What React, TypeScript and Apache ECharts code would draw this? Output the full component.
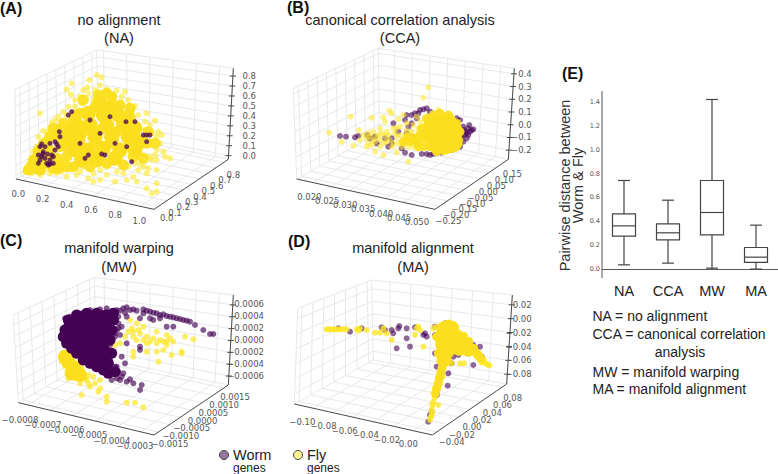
import React, { useEffect, useRef } from "react";
import * as echarts from "echarts";

// ---- tick labels ----
const naX = ["0.0", "0.2", "0.4", "0.6", "0.8", "1.0"];
const naY = ["0.0", "0.1", "0.2", "0.3", "0.4", "0.5", "0.6", "0.7", "0.8"];
const naZ = ["0.0", "0.1", "0.2", "0.3", "0.4", "0.5", "0.6", "0.7", "0.8"];
const ccaX = ["0.020", "0.025", "0.030", "0.035", "0.040", "0.045", "0.050"];
const ccaY = ["−0.25", "−0.20", "−0.15", "−0.10", "−0.05", "0.00", "0.05", "0.10", "0.15"];
const ccaZ = ["−0.2", "−0.1", "0.0", "0.1", "0.2", "0.3", "0.4"];
const mwX = ["−0.0008", "−0.0007", "−0.0006", "−0.0005", "−0.0004", "−0.0003"];
const mwY = ["−0.0015", "−0.0010", "−0.0005", "0.0000", "0.0005", "0.0010", "0.0015"];
const mwZ = ["−0.0006", "−0.0004", "−0.0002", "0.0000", "0.0002", "0.0004", "0.0006"];
const maX = ["−0.10", "−0.08", "−0.06", "−0.04", "−0.02", "0.00"];
const maY = ["−0.04", "−0.02", "0.00", "0.02", "0.04", "0.06", "0.08"];
const maZ = ["−0.08", "−0.06", "−0.04", "−0.02", "0.00", "0.02"];

// ---- projected gene positions ----
const naFlyDots = [[290,225],[305,232],[268,240],[215,250],[200,268],[212,283],[262,262],[240,290],[265,280],[285,270],[350,272],[320,268],[365,290],[385,300],[405,318],[415,345],[440,340],[465,362],[435,365],[120,340],[155,368],[150,385],[175,350],[190,335],[130,392],[115,410],[120,445],[105,470],[95,490],[470,410],[485,405],[490,455],[510,475],[495,470],[470,450],[455,480],[470,510],[440,520],[415,510],[385,500],[350,515],[330,490],[300,540],[280,545],[265,535],[200,530],[215,505],[250,500],[170,520],[150,520],[120,525],[95,520],[300,510],[345,545],[380,540],[410,545],[440,565],[470,550],[455,580],[470,575],[420,490],[450,470],[470,480],[400,530],[360,480],[320,500],[230,525],[140,505],[160,400],[175,380],[200,345],[225,320],[245,335],[280,300],[225,300],[180,420],[150,430],[135,420],[435,390],[455,400],[250,270],[300,255],[335,285],[375,275],[395,335],[450,375],[475,395],[245,310],[205,320],[165,360],[140,400],[110,440],[100,455],[80,505],[90,500],[75,515],[110,515],[130,515],[185,515],[240,515],[280,520],[320,525],[370,520],[430,500],[445,505],[480,430],[465,465],[405,490]];
const naFlyMid = [[240,340],[285,320],[335,290],[360,315],[390,325],[205,385],[175,410],[250,395],[300,390],[350,395],[400,395],[445,395],[240,430],[290,430],[340,430],[390,430],[440,430],[465,430],[200,470],[250,465],[300,465],[350,465],[400,470],[430,475],[220,500],[270,500],[320,490],[105,505],[85,510],[120,510],[250,300],[225,345],[190,370],[165,400],[150,410],[140,425],[320,280],[295,285],[370,495],[180,495],[110,490],[130,490],[100,480],[115,452],[130,432],[150,452],[145,472],[170,475],[175,505],[160,505],[200,440],[180,440],[195,405],[215,395],[220,360],[180,390],[160,385],[200,500],[95,495],[130,465]];
const naFlyCore = [[300,310],[335,320],[265,340],[310,345],[355,345],[385,355],[230,375],[270,375],[320,375],[370,375],[405,385],[205,420],[235,410],[285,410],[335,410],[385,410],[420,425],[225,450],[265,450],[310,445],[360,450],[405,450],[245,480],[290,480],[345,475]];
const naWormDots = [[115,465],[125,470],[135,440],[150,430],[165,425],[130,455],[120,480],[140,490],[150,480],[160,470],[165,450],[180,410],[175,440],[145,495],[135,475],[430,405],[440,405],[450,405],[305,462],[315,465],[265,465],[255,475],[205,345],[215,335],[405,365],[380,440],[378,365],[395,485],[440,425],[270,360],[240,430],[120,440],[178,395],[160,490],[115,490],[300,400],[345,430],[330,350],[128,462],[142,462],[155,465],[150,492],[125,432],[170,432]];

const ccaFlyDots = [[505,262],[490,293],[207,398],[272,350],[297,390],[280,437],[245,425],[335,353],[370,352],[375,365],[388,332],[395,340],[415,358],[445,485],[370,465],[410,457],[345,455],[320,440],[300,420],[325,430],[360,440],[340,395],[360,385],[380,395],[400,385],[420,380],[440,370],[430,345],[535,330],[470,350],[450,420],[470,410],[430,420],[480,435],[410,410],[390,420],[360,420],[330,410],[340,420],[455,395],[475,385],[435,405],[415,430],[395,440],[375,410],[355,405],[460,440],[445,440],[320,415],[310,405],[345,425],[370,430],[385,405],[405,400],[425,440],[440,390],[460,375],[480,365],[325,400],[335,435],[350,410],[365,400],[380,425],[400,430],[420,405],[435,430],[410,385]];
const ccaFlyMid = [[500,400],[490,415],[480,405],[470,425],[460,415],[450,425],[445,410],[430,425],[475,440],[490,440],[500,380],[505,360],[510,440],[485,385],[520,345],[540,340],[565,345],[590,370],[600,395],[595,420],[530,455],[550,452],[500,355]];
const ccaFlyCore = [[525,375],[560,372],[575,395],[525,410],[555,410],[575,425],[535,428],[558,430]];
const ccaWormDots = [[625,385],[635,390],[620,400],[610,380],[600,360],[615,395],[605,410],[620,415],[590,430],[600,440],[575,450],[555,452],[530,460],[510,465],[485,462],[500,462],[455,465],[435,458],[465,340],[440,345],[435,360],[490,328],[510,335],[470,355],[455,370],[445,380],[240,408],[258,410],[285,412],[295,408],[322,405],[330,415],[350,430],[395,415],[400,370],[415,395],[440,400],[460,410],[470,430],[425,445],[395,430],[345,410],[590,355],[625,405],[630,395],[640,388],[612,390],[628,375],[610,425],[612,405],[600,425],[582,445],[545,458],[520,462],[475,340],[480,330],[500,325],[455,345],[375,415],[385,440]];

const mwWormCore = [[225,325],[265,310],[300,305],[230,365],[270,350],[298,345],[268,395],[295,395]];
const mwWormMid = [[195,330],[205,300],[230,285],[260,280],[290,280],[320,285],[340,300],[190,350],[200,370],[215,385],[230,400],[250,420],[270,430],[290,440],[310,450],[325,460],[335,400],[330,360],[335,330],[340,280],[305,425],[325,430],[345,455]];
const mwWormDots = [[350,270],[370,265],[390,270],[410,272],[430,268],[450,275],[470,280],[490,283],[510,290],[530,295],[550,300],[570,305],[585,315],[610,330],[630,342],[640,342],[380,290],[420,295],[450,295],[500,320],[520,320],[460,300],[480,295],[320,265],[300,268],[270,270],[245,280],[380,262],[320,440],[340,460],[360,480],[380,485],[400,490],[425,495],[420,510],[370,460],[375,430],[365,410],[350,440],[330,420],[340,400],[330,375],[345,340],[355,325],[365,320],[420,380],[420,390],[380,370],[335,335],[345,350],[320,370],[190,325],[185,345],[195,295],[210,290],[340,285],[355,290],[345,440],[350,475],[335,480],[360,272],[400,268],[440,272],[460,278],[480,285],[500,288],[520,292],[540,297],[560,302],[430,280],[375,278],[355,310],[350,330],[360,345],[355,455],[365,470],[390,478]];
const mwFlyCore = [[205,425],[225,445],[195,410],[240,465],[215,460]];
const mwFlyDots = [[185,410],[195,400],[200,430],[215,420],[230,430],[225,450],[240,470],[260,480],[250,460],[280,470],[270,500],[295,515],[320,530],[320,545],[245,525],[380,548],[405,548],[430,562],[300,480],[210,460],[195,440],[185,425],[205,475],[400,335],[420,340],[440,350],[460,355],[480,360],[500,365],[520,365],[430,320],[410,310],[390,300],[470,335],[500,345],[545,400],[545,395],[580,358],[555,350],[515,405],[490,390],[470,395],[440,395],[400,410],[400,395],[475,425],[360,370],[375,350],[345,375],[410,360],[440,370],[470,370],[500,375],[265,490],[240,490],[300,505],[245,445],[265,465],[235,460],[255,475],[285,490],[225,475],[415,330],[400,350],[430,360],[450,365],[490,365],[510,355],[385,335],[395,325]];

const maFlyCore = [[555,325],[575,325],[560,350],[590,350],[575,375],[608,370],[548,372],[598,385],[625,388],[560,395],[552,420]];
const maFlyMid = [[565,312],[540,340],[530,350],[610,350],[625,365],[640,385],[650,400],[546,445],[542,460],[538,475],[535,490],[530,505],[526,520],[535,400],[545,400],[590,375],[655,405],[662,415]];
const maFlyDots = [[200,328],[207,328],[214,328],[221,328],[228,328],[235,328],[242,328],[250,328],[260,328],[290,328],[300,325],[320,330],[345,338],[360,338],[395,360],[465,345],[475,320],[490,380],[520,325],[540,470],[538,482],[535,495],[532,507],[527,520],[524,532],[520,545],[517,557],[515,570],[515,585],[510,600],[535,555],[540,465],[548,470],[640,395],[650,410],[660,418],[670,425],[680,432],[688,436],[645,385],[655,405],[665,428],[630,360],[615,345],[575,430],[600,430],[612,430],[470,325],[370,325],[380,340],[535,340],[530,320],[295,332],[480,330],[518,553],[516,577],[512,592],[675,428],[684,435],[672,420]];
const maWormDots = [[600,385],[590,385],[605,390],[622,400],[640,435],[660,380],[655,400],[665,410],[640,375],[575,430],[565,460],[563,497],[530,520],[525,400],[530,440],[515,575],[505,605],[510,585],[450,380],[440,355],[410,385],[400,340],[418,318],[440,325],[465,322],[490,345],[500,350],[525,345],[525,320],[365,322],[375,330],[305,325],[270,335],[235,325],[595,405],[580,410],[555,310],[530,525],[415,325],[395,330],[495,340]];

// ---- panel E box statistics: low, q1, median, q3, high ----
const boxCategories = ["NA", "CCA", "MW", "MA"];
const boxStats = [
  [0.036, 0.276, 0.362, 0.463, 0.742],
  [0.05, 0.245, 0.304, 0.379, 0.577],
  [0.008, 0.287, 0.474, 0.742, 1.42],
  [0, 0.056, 0.1, 0.181, 0.368],
];
const notes = [
  "NA = no alignment",
  "CCA = canonical correlation",
  "analysis",
  "MW = manifold warping",
  "MA = manifold alignment",
];

// ---- layout ----
type P = number[];
const lerp = (a: P, b: P, t: number): P => [a[0] + (b[0] - a[0]) * t, a[1] + (b[1] - a[1]) * t];
const steps = (n: number, f: number, t: number) =>
  Array.from({ length: n }, (_, i) => (n === 1 ? f : f + ((t - f) * i) / (n - 1)));

const panels = [
  {
    grid: [0, 0, 270, 220],
    L: [48, 537], F: [462, 628], R: [685, 478], B: [295, 398], LT: [45, 268], BT: [290, 150], RT: [700, 205],
    xT: naX, yT: naY, zT: naZ,
    xf: [0.05, 0.9], yf: [0.06, 0.94], zf: [0.04, 0.915],
    xl: [[55, 582], [418, 662]], yl: [[500, 654], [700, 525]], zl: [[768, 467], [768, 228]],
  },
  {
    grid: [260, 0, 270, 220],
    L: [110, 537], F: [525, 628], R: [745, 478], B: [358, 398], LT: [100, 265], BT: [355, 145], RT: [763, 205],
    xT: ccaX, yT: ccaY, zT: ccaZ,
    xf: [0.12, 0.9], yf: [0.06, 0.94], zf: [0.1, 0.94],
    xl: [[148, 590], [471, 666]], yl: [[565, 663], [757, 523]], zl: [[815, 450], [815, 222]],
  },
  {
    grid: [0, 220, 270, 254],
    L: [55, 548], F: [462, 645], R: [685, 495], B: [288, 412], LT: [40, 285], BT: [283, 172], RT: [700, 225],
    xT: mwX, yT: mwY, zT: mwZ,
    xf: [0.07, 0.9], yf: [0.06, 0.94], zf: [0.1, 0.89],
    xl: [[60, 600], [405, 677]], yl: [[510, 672], [705, 532]], zl: [[792, 468], [792, 252]],
  },
  {
    grid: [260, 220, 270, 254],
    L: [103, 552], F: [517, 645], R: [740, 492], B: [340, 420], LT: [113, 265], BT: [335, 180], RT: [757, 225],
    xT: maX, yT: maY, zT: maZ,
    xf: [0.13, 0.865], yf: [0.06, 0.94], zf: [0.11, 0.89],
    xl: [[127, 605], [445, 673]], yl: [[575, 667], [758, 533]], zl: [[815, 463], [815, 255]],
  },
];

const scatterLayers = [
  [
    { name: "Fly", d: naFlyDots, size: 6, c: "#fde725", o: 0.6, z: 3 },
    { name: "Fly", d: naFlyMid, size: 11, c: "#fbdf1e", o: 0.95, z: 3 },
    { name: "Fly", d: naFlyCore, size: 15, c: "#fbdf1e", o: 1, z: 3 },
    { name: "Worm", d: naWormDots, size: 5, c: "#440154", o: 0.75, z: 4 },
  ],
  [
    { name: "Worm", d: ccaWormDots, size: 6, c: "#440154", o: 0.6, z: 2 },
    { name: "Fly", d: ccaFlyDots, size: 6, c: "#fde725", o: 0.55, z: 3 },
    { name: "Fly", d: ccaFlyMid, size: 9, c: "#fbdf1e", o: 0.95, z: 3 },
    { name: "Fly", d: ccaFlyCore, size: 22, c: "#fbdf1e", o: 1, z: 3 },
  ],
  [
    { name: "Fly", d: mwFlyDots, size: 6, c: "#fde725", o: 0.7, z: 2 },
    { name: "Fly", d: mwFlyCore, size: 14, c: "#fbdf1e", o: 1, z: 2 },
    { name: "Worm", d: mwWormDots, size: 6, c: "#440154", o: 0.65, z: 3 },
    { name: "Worm", d: mwWormMid, size: 11, c: "#440154", o: 1, z: 3 },
    { name: "Worm", d: mwWormCore, size: 24, c: "#440154", o: 1, z: 3 },
  ],
  [
    { name: "Worm", d: maWormDots, size: 6, c: "#440154", o: 0.6, z: 2 },
    { name: "Fly", d: maFlyDots, size: 6, c: "#fde725", o: 0.8, z: 3 },
    { name: "Fly", d: maFlyMid, size: 9, c: "#fbdf1e", o: 1, z: 3 },
    { name: "Fly", d: maFlyCore, size: 15, c: "#fbdf1e", o: 1, z: 3 },
  ],
];

function frameSegments(p: any) {
  const grid: P[][] = [];
  const dark: P[][] = [];
  const { L, F, R, B, LT, BT, RT } = p;
  steps(p.xT.length, p.xf[0], p.xf[1]).forEach((t) => {
    const a = lerp(L, F, t), b = lerp(B, R, t), c = lerp(BT, RT, t);
    grid.push([a, b], [b, c]);
  });
  steps(p.yT.length, p.yf[0], p.yf[1]).forEach((t) => {
    const a = lerp(F, R, t), b = lerp(L, B, t), c = lerp(LT, BT, t);
    grid.push([a, b], [b, c]);
  });
  steps(p.zT.length, p.zf[0], p.zf[1]).forEach((t) => {
    const a = lerp(L, LT, t), b = lerp(B, BT, t), c = lerp(R, RT, t);
    grid.push([a, b], [b, c]);
    dark.push([[c[0] - 9, c[1]], [c[0] + 9, c[1]]]);
  });
  grid.push([L, B], [B, R], [L, LT], [LT, BT], [BT, RT], [B, BT], [R, RT]);
  dark.push([L, F], [F, R], [R, RT]);
  return { grid, dark };
}

function tickTexts(p: any) {
  const out: { t: string; at: P; right: boolean }[] = [];
  const add = (labels: string[], span: P[], right: boolean) =>
    labels.forEach((t, i) => out.push({ t, at: lerp(span[0], span[1], i / (labels.length - 1)), right }));
  add(p.xT, p.xl, false);
  add(p.yT, p.yl, false);
  add(p.zT, p.zl, true);
  return out;
}

function buildOption() {
  const grids: any[] = [];
  const xAxes: any[] = [];
  const yAxes: any[] = [];
  const series: any[] = [];
  panels.forEach((p, i) => {
    const [left, top, width, height] = p.grid;
    grids.push({ left, top, width, height });
    xAxes.push({ type: "value", gridIndex: i, min: 0, max: width * 3, show: false });
    yAxes.push({ type: "value", gridIndex: i, min: 0, max: height * 3, inverse: true, show: false });
    const { grid, dark } = frameSegments(p);
    const segmentSeries = (segs: P[][], stroke: string, lineWidth: number, z: number) => ({
      type: "custom",
      xAxisIndex: i,
      yAxisIndex: i,
      z,
      silent: true,
      clip: false,
      data: segs.map((s) => [s[0][0], s[0][1], s[1][0], s[1][1]]),
      renderItem: (_: any, api: any) => {
        const a = api.coord([api.value(0), api.value(1)]);
        const b = api.coord([api.value(2), api.value(3)]);
        return { type: "line", shape: { x1: a[0], y1: a[1], x2: b[0], y2: b[1] }, style: { stroke, lineWidth } };
      },
    });
    series.push(segmentSeries(grid, "#e8e9eb", 1, 1), segmentSeries(dark, "#4a4a4a", 1, 1));
    const texts = tickTexts(p);
    series.push({
      type: "custom",
      xAxisIndex: i,
      yAxisIndex: i,
      z: 1,
      silent: true,
      clip: false,
      data: texts.map((t) => t.at),
      renderItem: (params: any, api: any) => {
        const a = api.coord([api.value(0), api.value(1)]);
        const t = texts[params.dataIndex];
        return {
          type: "text",
          style: {
            text: t.t,
            x: a[0],
            y: a[1],
            fill: "#555555",
            font: '8.5px "DejaVu Sans"',
            align: t.right ? "right" : "center",
            verticalAlign: "middle",
          },
        };
      },
    });
    scatterLayers[i].forEach((l) => {
      series.push({
        type: "scatter",
        name: l.name,
        xAxisIndex: i,
        yAxisIndex: i,
        z: l.z,
        symbolSize: l.size,
        clip: false,
        silent: true,
        itemStyle: { color: l.c, opacity: l.o },
        data: l.d,
      });
    });
  });

  // panel E: y = 0 sits at pixel 269.3, 119.5 px per unit
  grids.push({ left: 602, top: 78, width: 180, height: 215 });
  xAxes.push({
    type: "category",
    gridIndex: 4,
    data: boxCategories,
    offset: -15,
    axisLine: { lineStyle: { color: "#555", width: 1 } },
    axisTick: { show: false },
    axisLabel: { color: "#222", fontFamily: "Liberation Sans", fontSize: 14.5, margin: 5 },
  });
  yAxes.push({
    type: "value",
    gridIndex: 4,
    min: -0.2,
    max: 1.6,
    interval: 0.2,
    splitLine: { show: false },
    axisLine: { show: false },
    axisTick: { show: false },
    axisLabel: {
      color: "#555",
      fontSize: 6.5,
      fontFamily: "DejaVu Sans",
      margin: 2,
      formatter: (v: number) => (v < -0.01 || v > 1.41 ? "" : v.toFixed(1)),
    },
    name: "Pairwise distance between\nWorm & Fly",
    nameLocation: "middle",
    nameGap: 13,
    nameRotate: 90,
    nameTextStyle: { color: "#333", fontFamily: "Liberation Sans", fontSize: 14.5, lineHeight: 13 },
  });
  series.push({
    type: "custom",
    name: "Pairwise distance",
    xAxisIndex: 4,
    yAxisIndex: 4,
    clip: false,
    data: boxStats.map((s, i) => [i, ...s]),
    encode: { x: 0, y: [1, 2, 3, 4, 5] },
    renderItem: (_: any, api: any) => {
      const i = api.value(0);
      const c = api.coord([i, 0])[0];
      const y = [1, 2, 3, 4, 5].map((k) => api.coord([i, api.value(k)])[1]);
      const style = { stroke: "#444", fill: "none", lineWidth: 1.2 };
      const line = (x1: number, y1: number, x2: number, y2: number) => ({
        type: "line",
        shape: { x1, y1, x2, y2 },
        style,
      });
      return {
        type: "group",
        children: [
          line(c, y[0], c, y[1]),
          line(c, y[3], c, y[4]),
          line(c - 6, y[0], c + 6, y[0]),
          line(c - 6, y[4], c + 6, y[4]),
          { type: "rect", shape: { x: c - 11.5, y: y[3], width: 23, height: y[1] - y[3] }, style },
          line(c - 11.5, y[2], c + 11.5, y[2]),
        ],
      };
    },
  });

  const label = (text: string, x: number, y: number) => ({
    type: "text",
    x,
    y,
    style: { text, fill: "#111", font: 'bold 16px "Liberation Sans"', verticalAlign: "middle" },
  });
  const head = (text: string, x: number, y: number) => ({
    type: "text",
    x,
    y,
    style: { text, fill: "#222", font: '14.5px "Liberation Sans"', align: "center", verticalAlign: "middle" },
  });
  const note = (text: string, x: number, y: number, align = "left") => ({
    type: "text",
    x,
    y,
    style: { text, fill: "#222", font: '14px "Liberation Sans"', align, verticalAlign: "middle" },
  });
  const key = (fill: string, cx: number, name: string) => [
    { type: "circle", shape: { cx, cy: 455, r: 4.5 }, style: { fill, stroke: "#444", lineWidth: 1 } },
    {
      type: "text",
      x: cx + 9,
      y: 455,
      style: { text: name, fill: "#222", font: '14.5px "Liberation Sans"', verticalAlign: "middle" },
    },
    {
      type: "text",
      x: cx + 9,
      y: 468,
      style: { text: "genes", fill: "#222", font: '12px "Liberation Sans"', verticalAlign: "middle" },
    },
  ];
  const graphic = [
    { type: "line", shape: { x1: 602, y1: 91, x2: 602, y2: 278 }, style: { stroke: "#555", lineWidth: 1 } },
    label("(A)", 0, 8),
    label("(B)", 287, 7),
    label("(C)", 0, 240),
    label("(D)", 288, 241),
    label("(E)", 562, 73),
    head("no alignment", 119, 20),
    head("(NA)", 119, 38),
    head("canonical correlation analysis", 400, 20),
    head("(CCA)", 400, 38),
    head("manifold warping", 119, 248),
    head("(MW)", 119, 267),
    head("manifold alignment", 413, 248),
    head("(MA)", 413, 267),
    note(notes[0], 592.5, 316),
    note(notes[1], 592.5, 334),
    note(notes[2], 680, 352, "center"),
    note(notes[3], 592.5, 372),
    note(notes[4], 592.5, 389),
    ...key("rgba(68,1,84,0.55)", 224, "Worm"),
    ...key("rgba(253,231,37,0.5)", 298, "Fly"),
  ];

  return { animation: false, backgroundColor: "#ffffff", grid: grids, xAxis: xAxes, yAxis: yAxes, series, graphic };
}

export default function App() {
  const ref = useRef<HTMLDivElement>(null);
  useEffect(() => {
    const chart = echarts.init(ref.current!, undefined, { renderer: "svg" });
    chart.setOption(buildOption() as any);
    return () => chart.dispose();
  }, []);
  return <div ref={ref} style={{ position: "absolute", left: 0, top: 0, width: 778, height: 474 }} />;
}
